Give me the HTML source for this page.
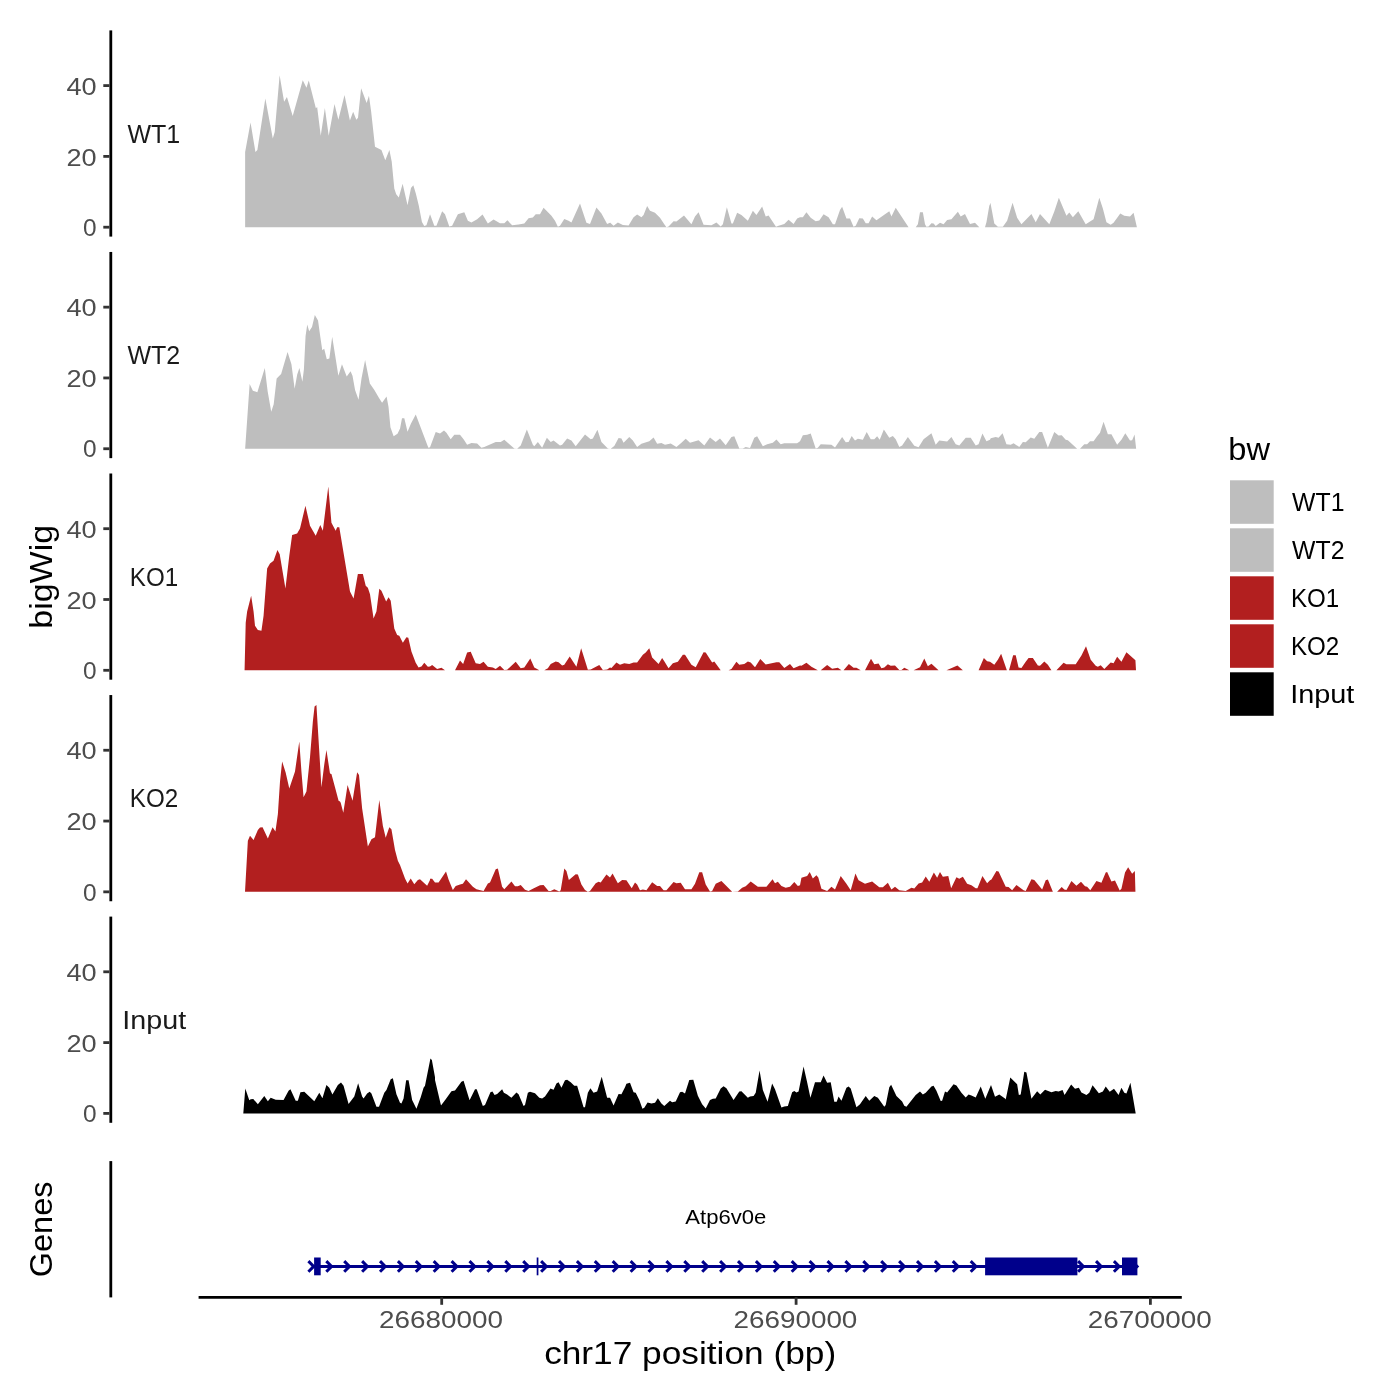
<!DOCTYPE html>
<html><head><meta charset="utf-8"><title>chr17 tracks</title>
<style>html,body{margin:0;padding:0;background:#fff;}body{width:1400px;height:1400px;overflow:hidden;font-family:"Liberation Sans",sans-serif;}svg{display:block;will-change:transform;}text{font-family:"Liberation Sans",sans-serif;}</style>
</head><body>
<svg width="1400" height="1400" viewBox="0 0 1400 1400">
<rect x="0" y="0" width="1400" height="1400" fill="#ffffff"/>
<path d="M245.14,227.20 L245.14,226.89 L245.14,151.93 L250.54,122.61 L255.43,151.93 L257.36,150.00 L265.33,98.57 L272.79,138.43 L274.71,132.00 L279.60,75.17 L284.10,101.79 L286.93,96.90 L292.71,115.93 L302.74,80.31 L306.47,87.64 L308.79,80.57 L315.86,108.21 L317.14,106.93 L320.74,135.86 L324.86,107.96 L328.71,135.86 L334.50,104.10 L338.36,119.79 L338.36,119.79 L344.53,94.97 L349.93,120.43 L353.14,111.81 L356.36,119.79 L358.03,117.86 L361.11,88.29 L366.64,103.07 L368.96,95.74 L371.14,111.43 L375.00,146.79 L381.43,150.00 L385.29,160.29 L389.40,150.00 L391.71,161.57 L394.29,188.57 L396.21,194.36 L398.79,197.57 L402.64,183.81 L407.53,205.29 L411.00,187.93 L413.31,185.36 L415.89,193.71 L418.71,205.29 L421.93,222.00 L424.24,226.11 L426.43,225.21 L430.03,214.29 L434.29,225.71 L436.43,225.71 L442.14,211.14 L445.00,214.29 L449.29,226.43 L452.14,225.71 L457.86,214.29 L464.29,212.14 L467.86,220.71 L471.43,222.57 L477.14,219.29 L482.57,214.57 L487.86,223.57 L493.57,219.57 L500.00,223.14 L504.29,223.14 L507.43,220.29 L512.14,225.29 L518.57,224.57 L524.29,223.57 L528.57,218.14 L532.86,217.43 L535.71,214.29 L540.00,214.29 L543.57,207.86 L551.43,215.71 L555.00,220.71 L557.86,226.86 L560.00,225.71 L564.29,219.00 L568.57,220.71 L571.43,222.57 L580.00,203.57 L586.43,222.86 L590.00,224.00 L596.43,207.43 L601.43,213.57 L607.14,224.00 L610.00,222.86 L610.00,222.57 L613.57,225.71 L617.86,222.57 L622.86,225.00 L628.57,225.43 L633.57,217.14 L637.14,214.57 L641.43,217.14 L643.57,215.00 L647.14,206.00 L650.00,210.71 L655.00,212.86 L660.00,217.86 L664.29,224.29 L666.43,227.14 L668.57,226.43 L673.57,221.14 L676.43,221.43 L684.00,215.43 L691.43,224.29 L695.00,216.43 L698.57,212.14 L703.57,224.71 L711.43,225.29 L716.43,222.57 L720.71,226.43 L722.86,224.29 L726.86,207.14 L731.43,223.57 L732.86,223.57 L737.14,212.86 L741.43,215.00 L747.86,220.71 L752.86,210.71 L756.43,215.00 L762.14,206.43 L765.71,216.43 L768.57,215.43 L776.00,226.86 L778.57,225.71 L784.29,224.00 L788.57,219.71 L793.57,224.00 L797.14,218.57 L800.00,217.14 L802.86,217.14 L806.43,212.14 L810.71,217.86 L815.71,221.14 L819.29,220.43 L823.57,214.29 L828.57,217.14 L832.86,224.29 L835.00,224.29 L840.00,210.00 L842.14,206.86 L846.43,218.57 L850.00,218.57 L853.57,226.86 L855.71,225.71 L859.29,218.29 L862.86,218.57 L865.71,223.14 L868.57,223.14 L872.14,216.43 L876.43,220.29 L889.29,211.14 L891.43,216.43 L895.71,207.86 L908.57,227.14 L915.71,227.14 L917.86,224.29 L920.00,212.14 L922.86,212.14 L925.00,224.29 L926.43,226.86 L928.57,226.43 L931.43,223.14 L933.57,223.57 L935.71,226.00 L940.00,222.86 L943.57,224.29 L947.14,220.00 L951.43,219.29 L957.86,211.86 L960.71,216.43 L965.00,214.00 L970.00,224.00 L975.00,222.86 L979.29,227.14 L985.00,227.14 L986.43,222.14 L989.29,205.71 L990.00,204.29 L990.43,202.86 L994.29,223.57 L997.86,226.86 L1002.86,226.86 L1007.14,220.71 L1012.57,202.86 L1017.14,217.86 L1021.43,224.29 L1031.43,214.00 L1035.71,222.14 L1040.00,214.00 L1049.29,224.29 L1054.29,211.43 L1058.86,197.86 L1062.86,207.14 L1066.43,215.71 L1069.29,212.57 L1072.86,217.14 L1078.29,211.14 L1085.71,224.29 L1093.57,219.29 L1099.29,197.86 L1102.86,208.57 L1106.43,222.14 L1110.71,224.71 L1113.57,222.86 L1120.29,213.57 L1124.29,215.71 L1130.00,216.43 L1133.57,212.86 L1136.86,227.00 L1136.86,227.20 Z" fill="#BEBEBE" stroke="none"/>
<path d="M245.14,448.75 L245.14,448.75 L249.64,383.96 L252.86,390.64 L257.36,392.19 L264.81,367.89 L267.64,391.29 L271.24,411.86 L273.69,404.14 L276.64,378.43 L281.14,373.93 L287.57,352.07 L291.43,364.29 L294.64,388.71 L297.21,374.57 L299.40,367.89 L302.36,381.64 L303.90,369.43 L305.57,336.00 L307.24,324.43 L309.17,331.24 L312.00,327.00 L314.83,315.04 L318.04,320.57 L320.36,337.29 L322.29,350.14 L324.21,348.86 L326.79,359.14 L329.36,358.50 L332.19,336.64 L335.14,355.29 L338.36,375.86 L338.36,375.86 L341.96,364.29 L346.71,376.50 L350.57,371.36 L352.50,375.86 L355.07,390.00 L358.54,399.64 L361.50,378.43 L365.10,360.04 L369.86,383.57 L374.36,390.00 L378.86,397.71 L382.07,402.86 L386.57,396.43 L388.50,406.71 L390.43,427.29 L393.64,436.29 L397.50,433.71 L400.07,428.57 L402.00,418.29 L404.31,418.29 L407.53,431.79 L411.00,423.43 L415.76,414.43 L428.36,447.86 L430.03,447.21 L435.71,432.00 L440.00,433.43 L444.00,430.57 L446.43,432.71 L450.71,439.14 L454.29,434.86 L460.00,434.86 L463.57,439.14 L467.14,444.86 L471.43,443.00 L477.14,443.43 L481.43,447.71 L484.29,447.00 L495.71,442.00 L500.71,442.00 L504.29,439.86 L514.29,448.43 L517.14,448.71 L520.71,445.57 L526.86,429.43 L532.86,444.86 L534.29,446.29 L537.86,442.00 L542.14,447.71 L546.86,437.71 L550.71,442.00 L553.57,440.57 L560.00,445.57 L562.14,444.86 L567.14,438.43 L571.43,440.57 L575.71,446.29 L585.00,434.43 L590.71,439.14 L592.86,438.43 L597.43,429.86 L601.43,442.00 L607.86,448.43 L610.00,448.71 L610.71,448.71 L614.29,446.00 L618.57,438.00 L621.43,438.43 L623.57,442.71 L629.29,437.00 L632.86,440.57 L637.14,447.00 L641.43,443.71 L649.29,441.29 L653.57,437.43 L657.14,443.71 L661.43,443.00 L665.00,444.86 L670.71,443.43 L676.43,447.00 L681.43,442.71 L685.71,438.71 L690.00,442.71 L698.57,440.14 L704.29,445.57 L710.00,437.43 L715.71,442.00 L720.00,438.43 L725.71,445.14 L731.43,437.00 L734.29,436.29 L739.29,448.43 L742.86,448.43 L745.71,447.00 L750.00,448.00 L754.29,437.71 L757.14,436.29 L762.86,446.29 L767.14,444.14 L772.86,442.71 L776.43,439.57 L780.71,444.14 L784.29,443.14 L797.14,443.14 L800.00,441.29 L802.86,435.14 L807.14,434.86 L810.71,433.43 L815.71,448.43 L817.86,447.71 L820.71,444.14 L831.43,444.86 L835.00,447.43 L842.14,437.00 L845.71,442.29 L848.57,442.00 L851.71,436.00 L855.00,440.57 L857.86,438.86 L862.86,439.86 L866.71,432.00 L870.71,439.14 L874.29,439.14 L877.14,436.29 L879.71,439.86 L883.86,429.57 L889.29,437.71 L892.86,436.00 L895.71,439.14 L899.29,447.00 L902.14,445.57 L907.86,437.00 L914.29,445.86 L918.57,447.29 L923.57,439.14 L931.43,433.14 L935.71,444.86 L939.29,440.57 L947.14,441.57 L951.43,437.00 L955.71,444.14 L959.29,445.57 L965.71,437.71 L970.71,437.71 L975.71,445.57 L978.57,444.14 L982.43,433.43 L986.43,441.29 L990.00,439.86 L990.71,438.14 L995.71,437.00 L998.57,437.71 L1002.57,433.14 L1006.43,444.14 L1010.71,444.86 L1013.57,443.14 L1019.29,447.00 L1022.86,442.00 L1025.71,442.29 L1030.71,437.43 L1034.29,438.71 L1039.29,432.00 L1042.14,432.00 L1047.86,447.71 L1054.29,432.00 L1058.57,435.57 L1061.71,435.29 L1065.71,439.86 L1067.86,440.29 L1077.14,448.71 L1080.00,448.71 L1084.29,444.14 L1087.14,444.14 L1090.00,441.29 L1093.57,441.29 L1097.14,436.29 L1100.00,432.71 L1103.57,421.71 L1107.86,434.14 L1111.43,434.14 L1117.14,444.86 L1121.43,439.86 L1125.29,433.14 L1130.00,440.57 L1132.14,440.29 L1134.57,434.57 L1136.14,448.71 L1136.14,448.75 Z" fill="#BEBEBE" stroke="none"/>
<path d="M244.57,670.30 L244.57,670.29 L245.71,622.86 L247.14,611.43 L251.14,595.71 L253.57,611.43 L255.00,625.71 L257.86,630.00 L261.43,630.71 L263.57,615.71 L267.14,568.57 L270.00,563.57 L273.57,560.71 L277.43,550.00 L279.71,554.29 L285.43,588.57 L289.29,555.71 L292.14,535.00 L297.14,533.57 L300.00,528.57 L305.43,505.71 L310.00,525.71 L315.71,535.71 L320.29,525.00 L322.86,530.71 L328.29,486.43 L331.43,522.86 L331.43,522.86 L335.71,530.71 L337.14,527.14 L339.29,527.14 L350.00,591.43 L353.57,598.57 L357.86,574.00 L362.86,574.00 L365.71,585.71 L367.86,587.86 L370.00,594.29 L373.57,618.57 L376.43,611.43 L379.29,588.86 L381.43,590.71 L386.14,601.43 L388.57,597.14 L390.71,600.71 L394.29,628.57 L397.14,635.00 L399.29,635.71 L402.86,642.86 L406.43,637.14 L408.29,637.86 L411.43,651.43 L415.71,662.86 L418.57,667.43 L421.43,666.43 L424.29,662.86 L427.86,666.86 L430.00,666.43 L432.14,665.00 L437.14,669.00 L441.43,667.86 L445.00,670.29 L455.00,670.29 L460.00,660.43 L463.14,664.00 L467.14,652.57 L470.71,651.86 L475.71,663.29 L480.00,664.00 L483.57,661.86 L487.86,666.86 L492.86,667.57 L495.71,669.00 L500.00,665.71 L504.29,670.00 L507.14,669.71 L515.71,661.86 L520.71,668.29 L524.29,667.57 L530.29,658.57 L534.29,667.57 L539.29,670.29 L544.29,670.29 L547.86,668.29 L550.71,664.00 L555.71,661.57 L558.57,662.29 L562.14,665.43 L564.29,664.71 L569.71,656.57 L576.43,666.86 L581.14,648.29 L587.86,669.71 L590.71,669.43 L599.29,665.00 L602.86,670.00 L607.14,669.43 L610.00,667.57 L611.43,668.00 L616.43,662.57 L620.00,664.71 L624.29,663.29 L629.29,664.00 L633.57,662.57 L637.14,662.57 L642.86,654.71 L645.71,652.57 L649.29,648.29 L652.14,657.57 L658.57,664.00 L662.14,658.00 L664.29,661.14 L668.57,668.29 L672.86,663.29 L677.86,661.86 L682.86,654.71 L685.00,654.71 L691.43,664.71 L695.71,667.14 L703.57,652.29 L705.71,652.57 L712.14,662.57 L714.29,661.43 L720.71,670.29 L728.57,670.29 L731.43,669.00 L736.43,661.86 L739.29,664.71 L744.29,664.00 L747.86,661.57 L750.71,662.57 L755.00,667.14 L760.29,659.00 L765.71,664.43 L776.43,662.14 L779.29,662.14 L784.29,668.00 L790.00,664.00 L793.57,668.29 L800.00,665.43 L801.43,665.71 L806.43,662.86 L811.43,666.86 L817.86,670.29 L820.71,670.29 L827.14,665.00 L832.14,668.71 L837.86,667.86 L841.43,670.29 L843.57,670.29 L848.86,664.00 L853.57,667.86 L856.43,667.86 L860.71,670.29 L865.00,670.29 L867.86,664.71 L871.00,658.71 L874.29,664.29 L878.57,663.57 L881.43,668.29 L884.29,667.57 L887.86,664.29 L890.71,665.71 L895.00,665.43 L899.29,670.00 L901.43,670.00 L904.29,667.86 L909.29,670.29 L913.57,670.29 L920.00,667.14 L924.29,658.57 L927.86,666.14 L931.43,663.71 L938.57,670.29 L946.43,670.29 L952.86,667.57 L957.43,665.43 L962.86,670.29 L978.57,670.29 L983.86,658.00 L987.14,661.14 L990.00,661.86 L994.29,664.71 L997.86,659.71 L1001.14,653.71 L1006.86,670.29 L1009.00,670.29 L1013.14,655.14 L1015.71,655.14 L1018.57,667.57 L1021.43,668.00 L1025.71,661.86 L1028.57,658.00 L1032.86,658.00 L1037.86,665.43 L1040.00,665.71 L1044.29,661.43 L1047.86,664.71 L1051.43,670.29 L1056.43,670.29 L1063.57,662.86 L1066.43,664.29 L1075.71,664.29 L1081.43,655.43 L1086.00,646.14 L1090.71,659.71 L1095.71,665.71 L1097.86,666.86 L1100.71,665.14 L1104.29,669.00 L1110.71,662.57 L1113.57,663.29 L1117.14,656.86 L1121.43,661.86 L1126.43,652.29 L1135.43,660.14 L1136.00,670.29 L1136.00,670.30 Z" fill="#B21F1F" stroke="none"/>
<path d="M245.00,891.85 L245.00,891.85 L247.86,840.71 L250.00,835.71 L253.57,840.00 L257.86,830.00 L260.00,827.57 L262.57,827.14 L267.86,838.57 L272.57,827.14 L275.43,831.43 L277.86,814.29 L280.00,781.43 L282.14,761.43 L285.71,772.86 L289.29,788.57 L295.00,771.43 L299.29,741.43 L301.43,771.43 L303.57,797.14 L306.43,791.43 L310.00,757.14 L312.86,721.43 L314.57,706.43 L316.43,705.00 L318.57,740.00 L321.43,787.14 L324.29,764.29 L326.43,750.00 L330.00,773.57 L331.43,774.00 L335.00,787.14 L338.57,800.71 L340.00,801.43 L340.71,802.86 L343.29,812.86 L347.57,785.00 L352.57,800.71 L357.14,772.14 L359.00,775.00 L362.14,808.57 L367.86,846.43 L371.43,839.29 L375.00,837.14 L379.29,800.00 L382.86,825.71 L385.71,837.86 L389.29,827.14 L391.43,829.29 L395.00,850.00 L397.86,860.71 L400.00,865.00 L405.00,878.57 L407.57,883.57 L410.71,878.57 L414.29,884.29 L417.86,880.00 L420.00,879.29 L427.14,885.71 L430.00,880.00 L430.00,878.86 L432.14,878.86 L435.00,882.43 L438.57,882.43 L446.00,871.43 L448.57,879.57 L452.86,890.00 L455.71,886.00 L460.00,884.57 L462.86,883.86 L466.00,879.29 L472.86,886.71 L476.43,889.14 L483.57,891.00 L487.86,883.43 L490.00,882.43 L495.71,869.14 L497.86,868.57 L502.14,886.71 L504.29,889.14 L511.43,881.43 L515.00,886.29 L517.86,886.29 L520.71,885.00 L525.00,889.86 L528.57,891.00 L532.86,888.86 L540.00,885.29 L543.57,885.00 L548.57,891.00 L550.71,891.00 L554.29,889.29 L559.29,891.43 L560.71,890.29 L564.29,868.57 L566.43,871.00 L568.86,880.00 L575.71,874.29 L577.86,874.57 L581.43,884.57 L585.00,890.00 L587.86,891.71 L590.00,891.00 L595.71,883.14 L598.57,881.71 L600.71,882.43 L606.43,874.57 L610.00,877.43 L612.57,873.43 L617.86,883.14 L622.14,880.00 L626.43,880.29 L631.71,888.14 L635.00,882.43 L637.14,884.57 L640.00,890.29 L642.86,889.57 L646.43,890.29 L652.14,882.14 L657.14,886.00 L660.00,886.00 L663.57,890.29 L666.43,890.29 L673.57,882.00 L676.43,883.14 L680.71,882.71 L685.00,889.14 L691.43,889.14 L695.00,883.86 L699.29,872.14 L702.14,872.14 L705.71,884.57 L710.00,891.43 L712.14,891.00 L715.71,883.86 L721.43,881.00 L732.14,891.71 L737.86,891.43 L742.14,887.71 L745.71,886.29 L750.71,881.43 L757.86,886.71 L766.43,886.71 L772.57,879.29 L775.00,883.14 L777.86,881.71 L781.43,886.00 L785.71,887.71 L790.00,886.71 L794.29,882.00 L797.86,886.00 L800.00,885.29 L801.43,877.71 L807.14,876.00 L809.71,872.00 L812.86,878.57 L816.43,875.29 L818.29,877.43 L821.43,888.86 L827.14,891.00 L831.43,886.71 L835.00,889.57 L840.71,876.00 L846.43,883.86 L850.71,890.29 L855.43,873.43 L858.57,880.29 L865.00,883.86 L872.14,881.43 L879.29,887.14 L882.86,887.14 L887.86,882.86 L891.43,889.57 L895.00,886.71 L899.29,890.29 L905.71,891.00 L911.43,887.71 L914.29,888.57 L918.57,883.43 L922.14,882.43 L925.71,876.43 L929.29,881.71 L933.86,872.43 L937.14,877.86 L940.00,872.00 L942.86,876.71 L948.29,876.00 L951.14,888.14 L956.43,877.14 L959.29,878.86 L962.86,876.71 L967.14,883.86 L971.43,885.29 L975.71,888.14 L977.43,888.14 L982.43,876.00 L987.14,883.14 L990.00,880.29 L991.43,879.57 L996.43,871.00 L998.57,871.43 L1005.71,886.71 L1008.57,887.00 L1012.14,890.29 L1016.43,885.00 L1023.57,890.29 L1025.71,891.00 L1031.43,879.29 L1034.29,880.00 L1042.14,889.57 L1045.71,880.29 L1047.86,879.57 L1052.86,891.85 L1057.14,891.85 L1061.71,887.00 L1064.29,889.57 L1066.43,890.00 L1071.43,881.00 L1076.43,885.71 L1081.00,881.71 L1085.00,886.29 L1087.14,886.71 L1090.29,890.29 L1096.43,881.00 L1101.43,882.71 L1105.71,872.43 L1107.14,872.00 L1111.43,881.43 L1115.00,880.57 L1119.71,890.57 L1121.43,888.86 L1125.00,872.43 L1128.14,867.14 L1132.14,873.86 L1134.86,871.00 L1135.43,891.85 L1135.43,891.85 Z" fill="#B21F1F" stroke="none"/>
<path d="M243.29,1113.40 L243.29,1113.40 L245.29,1088.57 L249.29,1100.29 L250.71,1099.29 L253.29,1099.00 L257.86,1104.29 L264.29,1096.00 L267.86,1101.14 L270.71,1097.86 L275.71,1099.71 L283.57,1100.00 L288.57,1090.71 L290.43,1089.29 L295.71,1100.71 L297.86,1100.71 L300.43,1092.14 L304.29,1091.86 L314.29,1101.14 L319.29,1092.86 L322.43,1098.29 L326.43,1085.00 L329.29,1087.86 L332.43,1094.57 L337.86,1085.00 L341.00,1082.57 L343.57,1085.71 L348.57,1104.00 L354.29,1096.43 L358.14,1083.29 L362.14,1096.43 L363.57,1098.57 L367.14,1093.57 L369.71,1091.86 L371.43,1093.57 L376.43,1106.86 L379.00,1106.86 L384.29,1092.86 L386.43,1090.00 L390.71,1079.29 L392.86,1078.14 L396.43,1094.29 L400.00,1102.86 L401.43,1103.57 L403.57,1098.57 L406.14,1080.29 L408.57,1080.29 L412.14,1100.00 L416.43,1108.86 L420.71,1097.14 L423.57,1087.86 L425.00,1085.71 L430.43,1058.57 L431.86,1060.00 L435.00,1077.14 L435.00,1080.00 L441.00,1105.43 L445.71,1099.29 L451.43,1091.14 L455.00,1090.43 L461.43,1081.71 L463.57,1080.71 L469.57,1100.29 L475.00,1089.29 L476.71,1089.29 L482.86,1106.00 L485.00,1105.00 L490.43,1092.14 L492.43,1091.43 L494.57,1095.00 L497.14,1094.00 L502.14,1089.29 L503.86,1092.86 L507.14,1094.57 L511.43,1097.86 L516.43,1092.43 L518.57,1094.29 L523.57,1106.00 L525.00,1105.00 L527.86,1092.86 L530.00,1091.71 L535.00,1093.29 L539.29,1097.86 L542.14,1098.57 L545.00,1096.43 L550.43,1088.57 L553.57,1089.71 L556.43,1083.57 L558.57,1082.14 L561.43,1087.86 L565.00,1080.29 L567.14,1079.71 L570.71,1082.14 L574.29,1085.71 L577.14,1085.71 L583.57,1107.14 L585.00,1107.14 L587.86,1092.86 L590.43,1088.29 L593.57,1092.86 L597.14,1091.43 L601.71,1076.71 L607.14,1097.86 L610.00,1097.86 L613.57,1105.43 L618.57,1094.00 L621.43,1094.29 L625.00,1087.14 L626.43,1083.86 L630.00,1082.86 L633.57,1092.14 L635.71,1092.86 L639.29,1100.00 L642.43,1108.86 L644.29,1107.86 L647.57,1102.57 L651.43,1103.57 L655.00,1102.86 L657.86,1098.14 L661.43,1103.57 L664.29,1106.00 L670.00,1100.71 L672.14,1102.14 L675.71,1101.43 L680.00,1092.14 L682.14,1091.86 L685.00,1093.57 L689.29,1080.00 L693.29,1079.71 L697.86,1095.71 L702.14,1104.29 L705.71,1108.57 L710.00,1100.00 L712.86,1098.86 L715.71,1098.57 L720.71,1088.57 L723.57,1086.14 L726.43,1088.29 L733.57,1100.00 L739.29,1091.43 L741.43,1091.14 L747.86,1097.86 L750.00,1096.43 L753.57,1096.00 L755.71,1092.86 L759.57,1070.43 L762.86,1090.00 L767.57,1101.71 L772.14,1083.57 L775.00,1089.29 L781.43,1107.43 L784.29,1106.43 L787.86,1106.00 L792.14,1092.14 L794.29,1091.00 L796.43,1092.43 L798.57,1091.43 L803.57,1066.43 L807.14,1082.14 L810.43,1097.86 L815.00,1082.14 L815.00,1082.14 L820.71,1082.14 L823.57,1075.43 L827.14,1082.86 L830.71,1082.14 L834.29,1101.71 L836.71,1101.71 L838.57,1096.43 L841.43,1100.71 L846.43,1087.86 L848.57,1086.43 L850.71,1088.57 L856.43,1107.14 L860.00,1104.29 L865.71,1096.00 L869.29,1100.71 L874.29,1096.00 L877.86,1097.86 L884.29,1106.71 L885.71,1105.00 L889.29,1087.14 L891.14,1084.71 L896.43,1096.00 L902.14,1101.43 L904.29,1105.71 L906.43,1106.86 L915.71,1095.00 L920.00,1091.43 L922.86,1094.57 L925.71,1092.86 L931.43,1086.43 L933.57,1085.71 L936.43,1090.71 L940.71,1101.00 L942.14,1100.71 L945.00,1091.43 L947.14,1092.57 L953.57,1084.29 L956.43,1085.43 L961.43,1092.86 L965.71,1097.43 L968.57,1094.57 L971.43,1095.43 L975.71,1097.57 L980.71,1086.43 L985.29,1098.86 L991.00,1085.00 L995.00,1096.86 L999.29,1094.57 L1005.00,1098.57 L1005.71,1099.57 L1010.29,1077.43 L1017.14,1084.29 L1018.86,1095.00 L1020.71,1094.57 L1024.29,1071.71 L1026.43,1072.57 L1031.43,1098.86 L1037.14,1091.14 L1040.29,1094.57 L1045.00,1089.71 L1051.43,1092.14 L1055.71,1091.00 L1058.57,1091.43 L1062.57,1090.00 L1064.57,1095.00 L1071.14,1084.57 L1075.00,1088.86 L1078.86,1087.86 L1081.43,1092.43 L1086.43,1095.00 L1089.29,1092.86 L1092.57,1085.29 L1098.86,1093.14 L1102.86,1091.43 L1105.71,1086.43 L1109.71,1091.71 L1114.00,1088.86 L1118.57,1095.00 L1121.43,1087.86 L1124.29,1092.86 L1126.43,1093.57 L1130.43,1082.86 L1135.71,1113.40 L1135.71,1113.40 Z" fill="#000000" stroke="none"/>
<line x1="110.8" x2="110.8" y1="30.40" y2="236.60" stroke="#000" stroke-width="2.8"/>
<line x1="103.3" x2="109.45" y1="227.20" y2="227.20" stroke="#333333" stroke-width="2.8"/>
<text x="96.60" y="235.90" font-size="24.6" fill="#4D4D4D" text-anchor="end" textLength="13.60" lengthAdjust="spacingAndGlyphs" >0</text>
<line x1="103.3" x2="109.45" y1="156.40" y2="156.40" stroke="#333333" stroke-width="2.8"/>
<text x="96.60" y="165.60" font-size="24.6" fill="#4D4D4D" text-anchor="end" textLength="30.20" lengthAdjust="spacingAndGlyphs" >20</text>
<line x1="103.3" x2="109.45" y1="85.60" y2="85.60" stroke="#333333" stroke-width="2.8"/>
<text x="96.60" y="94.80" font-size="24.6" fill="#4D4D4D" text-anchor="end" textLength="30.20" lengthAdjust="spacingAndGlyphs" >40</text>
<text x="153.85" y="142.70" font-size="25.4" fill="#1a1a1a" text-anchor="middle" textLength="52.80" lengthAdjust="spacingAndGlyphs" >WT1</text>
<line x1="110.8" x2="110.8" y1="251.95" y2="458.15" stroke="#000" stroke-width="2.8"/>
<line x1="103.3" x2="109.45" y1="448.75" y2="448.75" stroke="#333333" stroke-width="2.8"/>
<text x="96.60" y="457.45" font-size="24.6" fill="#4D4D4D" text-anchor="end" textLength="13.60" lengthAdjust="spacingAndGlyphs" >0</text>
<line x1="103.3" x2="109.45" y1="377.95" y2="377.95" stroke="#333333" stroke-width="2.8"/>
<text x="96.60" y="387.15" font-size="24.6" fill="#4D4D4D" text-anchor="end" textLength="30.20" lengthAdjust="spacingAndGlyphs" >20</text>
<line x1="103.3" x2="109.45" y1="307.15" y2="307.15" stroke="#333333" stroke-width="2.8"/>
<text x="96.60" y="316.35" font-size="24.6" fill="#4D4D4D" text-anchor="end" textLength="30.20" lengthAdjust="spacingAndGlyphs" >40</text>
<text x="153.80" y="364.25" font-size="25.4" fill="#1a1a1a" text-anchor="middle" textLength="52.80" lengthAdjust="spacingAndGlyphs" >WT2</text>
<line x1="110.8" x2="110.8" y1="473.50" y2="679.70" stroke="#000" stroke-width="2.8"/>
<line x1="103.3" x2="109.45" y1="670.30" y2="670.30" stroke="#333333" stroke-width="2.8"/>
<text x="96.60" y="679.00" font-size="24.6" fill="#4D4D4D" text-anchor="end" textLength="13.60" lengthAdjust="spacingAndGlyphs" >0</text>
<line x1="103.3" x2="109.45" y1="599.50" y2="599.50" stroke="#333333" stroke-width="2.8"/>
<text x="96.60" y="608.70" font-size="24.6" fill="#4D4D4D" text-anchor="end" textLength="30.20" lengthAdjust="spacingAndGlyphs" >20</text>
<line x1="103.3" x2="109.45" y1="528.70" y2="528.70" stroke="#333333" stroke-width="2.8"/>
<text x="96.60" y="537.90" font-size="24.6" fill="#4D4D4D" text-anchor="end" textLength="30.20" lengthAdjust="spacingAndGlyphs" >40</text>
<text x="154.05" y="585.80" font-size="25.4" fill="#1a1a1a" text-anchor="middle" textLength="48.40" lengthAdjust="spacingAndGlyphs" >KO1</text>
<line x1="110.8" x2="110.8" y1="695.05" y2="901.25" stroke="#000" stroke-width="2.8"/>
<line x1="103.3" x2="109.45" y1="891.85" y2="891.85" stroke="#333333" stroke-width="2.8"/>
<text x="96.60" y="900.55" font-size="24.6" fill="#4D4D4D" text-anchor="end" textLength="13.60" lengthAdjust="spacingAndGlyphs" >0</text>
<line x1="103.3" x2="109.45" y1="821.05" y2="821.05" stroke="#333333" stroke-width="2.8"/>
<text x="96.60" y="830.25" font-size="24.6" fill="#4D4D4D" text-anchor="end" textLength="30.20" lengthAdjust="spacingAndGlyphs" >20</text>
<line x1="103.3" x2="109.45" y1="750.25" y2="750.25" stroke="#333333" stroke-width="2.8"/>
<text x="96.60" y="759.45" font-size="24.6" fill="#4D4D4D" text-anchor="end" textLength="30.20" lengthAdjust="spacingAndGlyphs" >40</text>
<text x="154.05" y="807.35" font-size="25.4" fill="#1a1a1a" text-anchor="middle" textLength="48.40" lengthAdjust="spacingAndGlyphs" >KO2</text>
<line x1="110.8" x2="110.8" y1="916.60" y2="1122.80" stroke="#000" stroke-width="2.8"/>
<line x1="103.3" x2="109.45" y1="1113.40" y2="1113.40" stroke="#333333" stroke-width="2.8"/>
<text x="96.60" y="1122.10" font-size="24.6" fill="#4D4D4D" text-anchor="end" textLength="13.60" lengthAdjust="spacingAndGlyphs" >0</text>
<line x1="103.3" x2="109.45" y1="1042.60" y2="1042.60" stroke="#333333" stroke-width="2.8"/>
<text x="96.60" y="1051.80" font-size="24.6" fill="#4D4D4D" text-anchor="end" textLength="30.20" lengthAdjust="spacingAndGlyphs" >20</text>
<line x1="103.3" x2="109.45" y1="971.80" y2="971.80" stroke="#333333" stroke-width="2.8"/>
<text x="96.60" y="981.00" font-size="24.6" fill="#4D4D4D" text-anchor="end" textLength="30.20" lengthAdjust="spacingAndGlyphs" >40</text>
<text x="154.30" y="1028.90" font-size="25.4" fill="#1a1a1a" text-anchor="middle" textLength="63.90" lengthAdjust="spacingAndGlyphs" >Input</text>
<text transform="translate(51.6,576.8) rotate(-90)" font-size="31.2" fill="#000" text-anchor="middle" textLength="103.8" lengthAdjust="spacingAndGlyphs">bigWig</text>
<text transform="translate(51.8,1229.4) rotate(-90)" font-size="31.2" fill="#000" text-anchor="middle" textLength="95.8" lengthAdjust="spacingAndGlyphs">Genes</text>
<line x1="110.8" x2="110.8" y1="1161.1" y2="1297.4" stroke="#000" stroke-width="2.8"/>
<line x1="198.6" x2="1181.8" y1="1297.3" y2="1297.3" stroke="#000" stroke-width="2.8"/>
<line x1="314.1" x2="1137.4" y1="1266.4" y2="1266.4" stroke="#00008B" stroke-width="3"/>
<path d="M308.40,1261.10 L313.70,1266.40 L308.40,1271.70 M326.30,1261.10 L331.60,1266.40 L326.30,1271.70 M344.20,1261.10 L349.50,1266.40 L344.20,1271.70 M362.10,1261.10 L367.40,1266.40 L362.10,1271.70 M380.00,1261.10 L385.30,1266.40 L380.00,1271.70 M397.90,1261.10 L403.20,1266.40 L397.90,1271.70 M415.80,1261.10 L421.10,1266.40 L415.80,1271.70 M433.70,1261.10 L439.00,1266.40 L433.70,1271.70 M451.60,1261.10 L456.90,1266.40 L451.60,1271.70 M469.50,1261.10 L474.80,1266.40 L469.50,1271.70 M487.40,1261.10 L492.70,1266.40 L487.40,1271.70 M505.30,1261.10 L510.60,1266.40 L505.30,1271.70 M523.20,1261.10 L528.50,1266.40 L523.20,1271.70 M541.10,1261.10 L546.40,1266.40 L541.10,1271.70 M559.00,1261.10 L564.30,1266.40 L559.00,1271.70 M576.90,1261.10 L582.20,1266.40 L576.90,1271.70 M594.80,1261.10 L600.10,1266.40 L594.80,1271.70 M612.70,1261.10 L618.00,1266.40 L612.70,1271.70 M630.60,1261.10 L635.90,1266.40 L630.60,1271.70 M648.50,1261.10 L653.80,1266.40 L648.50,1271.70 M666.40,1261.10 L671.70,1266.40 L666.40,1271.70 M684.30,1261.10 L689.60,1266.40 L684.30,1271.70 M702.20,1261.10 L707.50,1266.40 L702.20,1271.70 M720.10,1261.10 L725.40,1266.40 L720.10,1271.70 M738.00,1261.10 L743.30,1266.40 L738.00,1271.70 M755.90,1261.10 L761.20,1266.40 L755.90,1271.70 M773.80,1261.10 L779.10,1266.40 L773.80,1271.70 M791.70,1261.10 L797.00,1266.40 L791.70,1271.70 M809.60,1261.10 L814.90,1266.40 L809.60,1271.70 M827.50,1261.10 L832.80,1266.40 L827.50,1271.70 M845.40,1261.10 L850.70,1266.40 L845.40,1271.70 M863.30,1261.10 L868.60,1266.40 L863.30,1271.70 M881.20,1261.10 L886.50,1266.40 L881.20,1271.70 M899.10,1261.10 L904.40,1266.40 L899.10,1271.70 M917.00,1261.10 L922.30,1266.40 L917.00,1271.70 M934.90,1261.10 L940.20,1266.40 L934.90,1271.70 M952.80,1261.10 L958.10,1266.40 L952.80,1271.70 M970.70,1261.10 L976.00,1266.40 L970.70,1271.70 M988.60,1261.10 L993.90,1266.40 L988.60,1271.70 M1006.50,1261.10 L1011.80,1266.40 L1006.50,1271.70 M1024.40,1261.10 L1029.70,1266.40 L1024.40,1271.70 M1042.30,1261.10 L1047.60,1266.40 L1042.30,1271.70 M1060.20,1261.10 L1065.50,1266.40 L1060.20,1271.70 M1078.10,1261.10 L1083.40,1266.40 L1078.10,1271.70 M1096.00,1261.10 L1101.30,1266.40 L1096.00,1271.70 M1113.90,1261.10 L1119.20,1266.40 L1113.90,1271.70 M1131.80,1261.10 L1137.10,1266.40 L1131.80,1271.70" fill="none" stroke="#00008B" stroke-width="3" stroke-linejoin="miter" stroke-linecap="butt"/>
<rect x="314.1" y="1257.5" width="6.6" height="17.8" fill="#00008B"/>
<rect x="536.7" y="1257.5" width="1.7" height="17.8" fill="#00008B"/>
<rect x="985.1" y="1257.5" width="92.3" height="17.8" fill="#00008B"/>
<rect x="1122.0" y="1257.5" width="15.4" height="17.8" fill="#00008B"/>
<text x="725.85" y="1223.90" font-size="19.5" fill="#000" text-anchor="middle" textLength="81.00" lengthAdjust="spacingAndGlyphs" >Atp6v0e</text>
<line x1="441.70" x2="441.70" y1="1297.3" y2="1304.8" stroke="#333333" stroke-width="2.8"/>
<text x="441.00" y="1328.40" font-size="24.6" fill="#4D4D4D" text-anchor="middle" textLength="124.00" lengthAdjust="spacingAndGlyphs" >26680000</text>
<line x1="796.10" x2="796.10" y1="1297.3" y2="1304.8" stroke="#333333" stroke-width="2.8"/>
<text x="795.40" y="1328.40" font-size="24.6" fill="#4D4D4D" text-anchor="middle" textLength="124.00" lengthAdjust="spacingAndGlyphs" >26690000</text>
<line x1="1150.40" x2="1150.40" y1="1297.3" y2="1304.8" stroke="#333333" stroke-width="2.8"/>
<text x="1149.70" y="1328.40" font-size="24.6" fill="#4D4D4D" text-anchor="middle" textLength="124.00" lengthAdjust="spacingAndGlyphs" >26700000</text>
<text x="690.15" y="1364.10" font-size="31.2" fill="#000" text-anchor="middle" textLength="292.00" lengthAdjust="spacingAndGlyphs" >chr17 position (bp)</text>
<text x="1228.30" y="459.60" font-size="31.2" fill="#000" text-anchor="start" textLength="41.70" lengthAdjust="spacingAndGlyphs" >bw</text>
<rect x="1230" y="480.30" width="43.7" height="43.5" fill="#BEBEBE"/>
<text x="1292.10" y="510.70" font-size="25.4" fill="#000" text-anchor="start" textLength="52.40" lengthAdjust="spacingAndGlyphs" >WT1</text>
<rect x="1230" y="528.30" width="43.7" height="43.5" fill="#BEBEBE"/>
<text x="1292.10" y="558.70" font-size="25.4" fill="#000" text-anchor="start" textLength="52.40" lengthAdjust="spacingAndGlyphs" >WT2</text>
<rect x="1230" y="576.30" width="43.7" height="43.5" fill="#B21F1F"/>
<text x="1290.95" y="606.70" font-size="25.4" fill="#000" text-anchor="start" textLength="48.30" lengthAdjust="spacingAndGlyphs" >KO1</text>
<rect x="1230" y="624.30" width="43.7" height="43.5" fill="#B21F1F"/>
<text x="1290.95" y="654.70" font-size="25.4" fill="#000" text-anchor="start" textLength="48.30" lengthAdjust="spacingAndGlyphs" >KO2</text>
<rect x="1230" y="672.30" width="43.7" height="43.5" fill="#000000"/>
<text x="1290.20" y="702.70" font-size="25.4" fill="#000" text-anchor="start" textLength="64.20" lengthAdjust="spacingAndGlyphs" >Input</text>
</svg>
</body></html>
